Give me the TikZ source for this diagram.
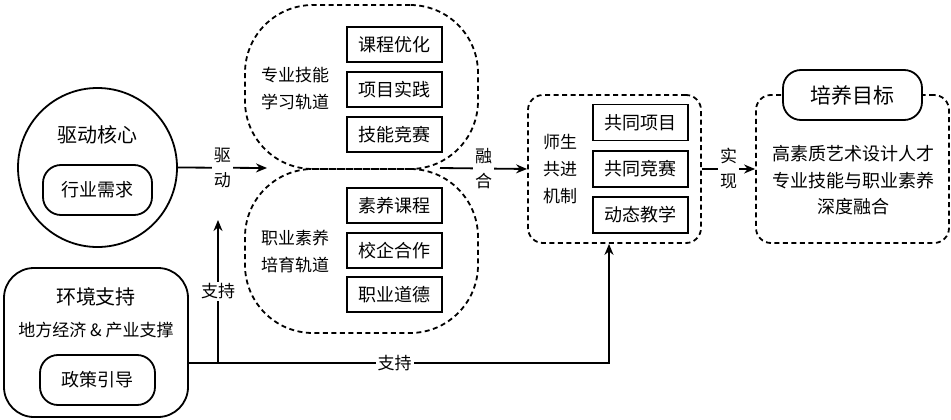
\documentclass[tikz,border=0pt]{standalone}
\usepackage{fontspec}
\setmainfont{Noto Sans CJK SC}
\usetikzlibrary{arrows.meta}
\begin{document}
\begin{tikzpicture}[x=1pt,y=-1pt,
  every node/.style={inner sep=0pt, font=\fontsize{18}{22}\selectfont},
  sbox/.style={draw, line width=1.8pt, minimum width=95pt, minimum height=35pt},
  rbox/.style={draw, line width=1.8pt, rounded corners=18pt, fill=white},
  dbox/.style={draw, line width=1.8pt, dash pattern=on 5pt off 3.5pt},
  conn/.style={line width=1.8pt},
  arr/.style={conn, -{Stealth[length=11pt,width=9pt]}},
  lab/.style={fill=white, inner sep=2pt, align=center, font=\fontsize{17}{25}\selectfont},
  big/.style={font=\fontsize{20}{24}\selectfont},
  txt/.style={align=center, font=\fontsize{17}{27}\selectfont}
]
\useasboundingbox (0,0) rectangle (951,420);

% driving core
\node[draw, circle, line width=1.8pt, minimum size=159pt] (core) at (97.5,167.5) {};
\node[big] (coret) at (97,135) {驱动核心};
\node[rbox, minimum width=109pt, minimum height=50pt] (need) at (97.5,190) {行业需求};

% environment support
\node[draw, line width=1.8pt, rounded corners=30pt, minimum width=184pt, minimum height=149pt] (env) at (96,342.5) {};
\node[big] (envt) at (96,297) {环境支持};
\node[font=\fontsize{17}{20}\selectfont] (envs) at (96,330) {地方经济 \& 产业支撑};
\node[rbox, minimum width=115pt, minimum height=50pt] (policy) at (97.5,380) {政策引导};

% two tracks
\node[dbox, rounded corners=68pt, minimum width=233pt, minimum height=164pt] (skill) at (361.5,87) {};
\node[dbox, rounded corners=68pt, minimum width=233pt, minimum height=164pt] (quality) at (361.5,251) {};
\node[txt] (skillt) at (295,89) {专业技能\\学习轨道};
\node[txt] (qualt) at (295,252) {职业素养\\培育轨道};
\node[sbox] (s1) at (394.5,44.5) {课程优化};
\node[sbox] (s2) at (394.5,89.5) {项目实践};
\node[sbox] (s3) at (394.5,134.5) {技能竞赛};
\node[sbox] (q1) at (394.5,205.5) {素养课程};
\node[sbox] (q2) at (394.5,250.5) {校企合作};
\node[sbox] (q3) at (394.5,294.5) {职业道德};
\coordinate (jl) at (267,168);
\coordinate (jr) at (440,168);

% co-progress mechanism
\node[dbox, rounded corners=15pt, minimum width=173pt, minimum height=148pt] (co) at (614.5,169) {};
\node[txt] (cot) at (560,169) {师生\\共进\\机制};
\node[sbox, minimum height=36pt] (c1) at (640.5,122.5) {共同项目};
\node[sbox, minimum height=36pt] (c2) at (640.5,169) {共同竞赛};
\node[sbox, minimum height=36pt] (c3) at (640.5,215) {动态教学};

% goal
\node[dbox, rounded corners=15pt, minimum width=193pt, minimum height=148pt] (goal) at (852.5,169) {};
\node[rbox, minimum width=139pt, minimum height=50pt, font=\fontsize{21}{24}\selectfont] (goalt) at (852.5,95) {培养目标};
\node[align=center, font=\fontsize{18}{26.5}\selectfont] (goaltext) at (853,180.5) {高素质艺术设计人才\\专业技能与职业素养\\深度融合};

% connectors
\draw[arr] (core.east) -- node[lab] {驱\\动} (jl);
\draw[arr] (jr) -- node[lab] {融\\合} (co.west);
\draw[arr] (co.east) -- node[lab] {实\\现} (goal.west);
\coordinate (sj) at (218,363);
\coordinate (sk) at (218,220);
\draw[arr] ([yshift=-20.5pt]env.east) -| node[pos=0.245, lab] {支持} ([xshift=-5.5pt]co.south);
\draw[arr] (sj) -- node[lab] {支持} (sk);
\end{tikzpicture}
\end{document}
